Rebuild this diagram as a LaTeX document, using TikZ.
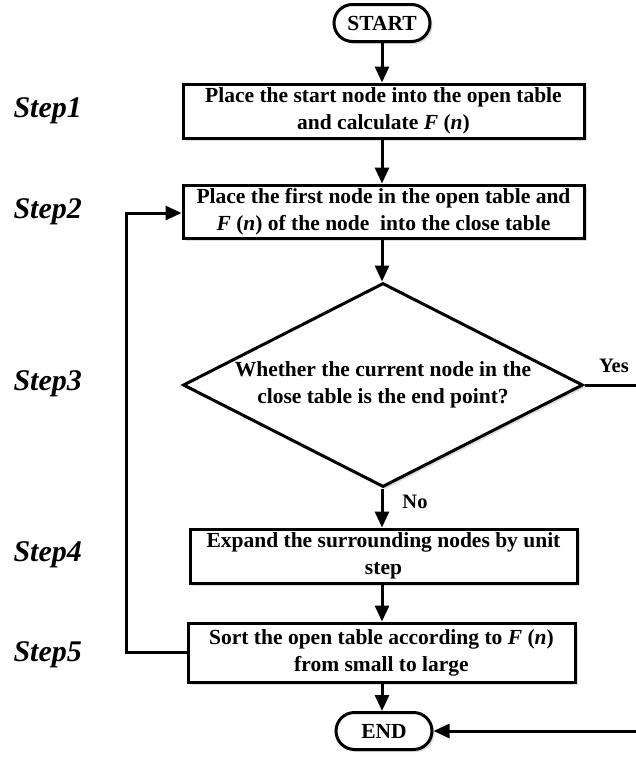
\documentclass[tikz,border=0pt]{standalone}
\usepackage{fontspec}
\setmainfont{Liberation Serif}
\usetikzlibrary{shapes.geometric,shapes.misc,arrows.meta,shadows}
\begin{document}
\begin{tikzpicture}[x=1pt,y=1pt,
  shad/.style={drop shadow={shadow xshift=2.5pt,shadow yshift=-2.5pt,fill=gray!60,opacity=0.45}},
  txt/.style={font=\bfseries\fontsize{21.5}{27}\selectfont, align=center},
  procbox/.style={txt, draw, line width=3pt, fill=white, shad, inner sep=0pt},
  term/.style={txt, draw, line width=3pt, fill=white, shad, rounded rectangle, inner sep=0pt, minimum width=96pt, minimum height=37pt},
  decide/.style={txt, draw, line width=3pt, fill=white, shad, diamond, aspect=1.96, inner sep=0pt, minimum width=400pt, minimum height=204pt},
  steplab/.style={font=\bfseries\itshape\fontsize{30}{32}\selectfont, anchor=west},
  lab/.style={font=\bfseries\fontsize{20.5}{24}\selectfont},
  conn/.style={line width=3pt, -{Triangle[length=16pt,width=14pt]}},
  plain/.style={line width=3pt}
]
\useasboundingbox (0,0) rectangle (636,-761);

\node[term] (start) at (382,-23) {START};
\node[procbox, minimum width=401pt, minimum height=54pt] (b1) at (383.5,-111)
  {Place the start node into the open table\\and calculate \textit{F} (\textit{n})};
\node[procbox, minimum width=401pt, minimum height=53pt] (b2) at (383.5,-211.5)
  {Place the first node in the open table and\\\textit{F} (\textit{n}) of the node\ \ into the close table};
\node[decide] (d) at (383,-385)
  {Whether the current node in the\\close table is the end point?};
\node[procbox, minimum width=387pt, minimum height=54pt] (b4) at (383.5,-556)
  {Expand the surrounding nodes by unit\\step};
\node[procbox, minimum width=387pt, minimum height=59pt] (b5) at (381.5,-652.5)
  {Sort the open table according to \textit{F} (\textit{n})\\from small to large};
\node[term] (end) at (384,-731) {END};

\node[steplab] (s1) at (10,-111) {Step1};
\node[steplab] (s2) at (10,-212) {Step2};
\node[steplab] (s3) at (10,-384) {Step3};
\node[steplab] (s4) at (10,-555) {Step4};
\node[steplab] (s5) at (10,-655) {Step5};

\coordinate (yesend) at (636,-385);
\coordinate (retstart) at (636,-731);
\coordinate (loopbot) at (126,-652.5);
\coordinate (looptop) at (126,-213);

\draw[conn] (start.south -| 382,0) -- (b1.north -| 382,0);
\draw[conn] (b1.south -| 382,0) -- (b2.north -| 382,0);
\draw[conn] (b2.south -| 382,0) -- (d.north -| 382,0);
\draw[conn] (d.south -| 382,0) -- (b4.north -| 382,0);
\draw[conn] (b4.south -| 382,0) -- (b5.north -| 382,0);
\draw[conn] (b5.south -| 382,0) -- (end.north -| 382,0);
\draw[conn] (b5.west) -- (loopbot) -- (looptop) -- (b2.west |- looptop);
\draw[plain] (d.east) -- (yesend);
\draw[conn] (retstart) -- (end.east);

\node[lab] (yes) at (614,-366) {Yes};
\node[lab] (no) at (415,-502) {No};
\end{tikzpicture}
\end{document}
